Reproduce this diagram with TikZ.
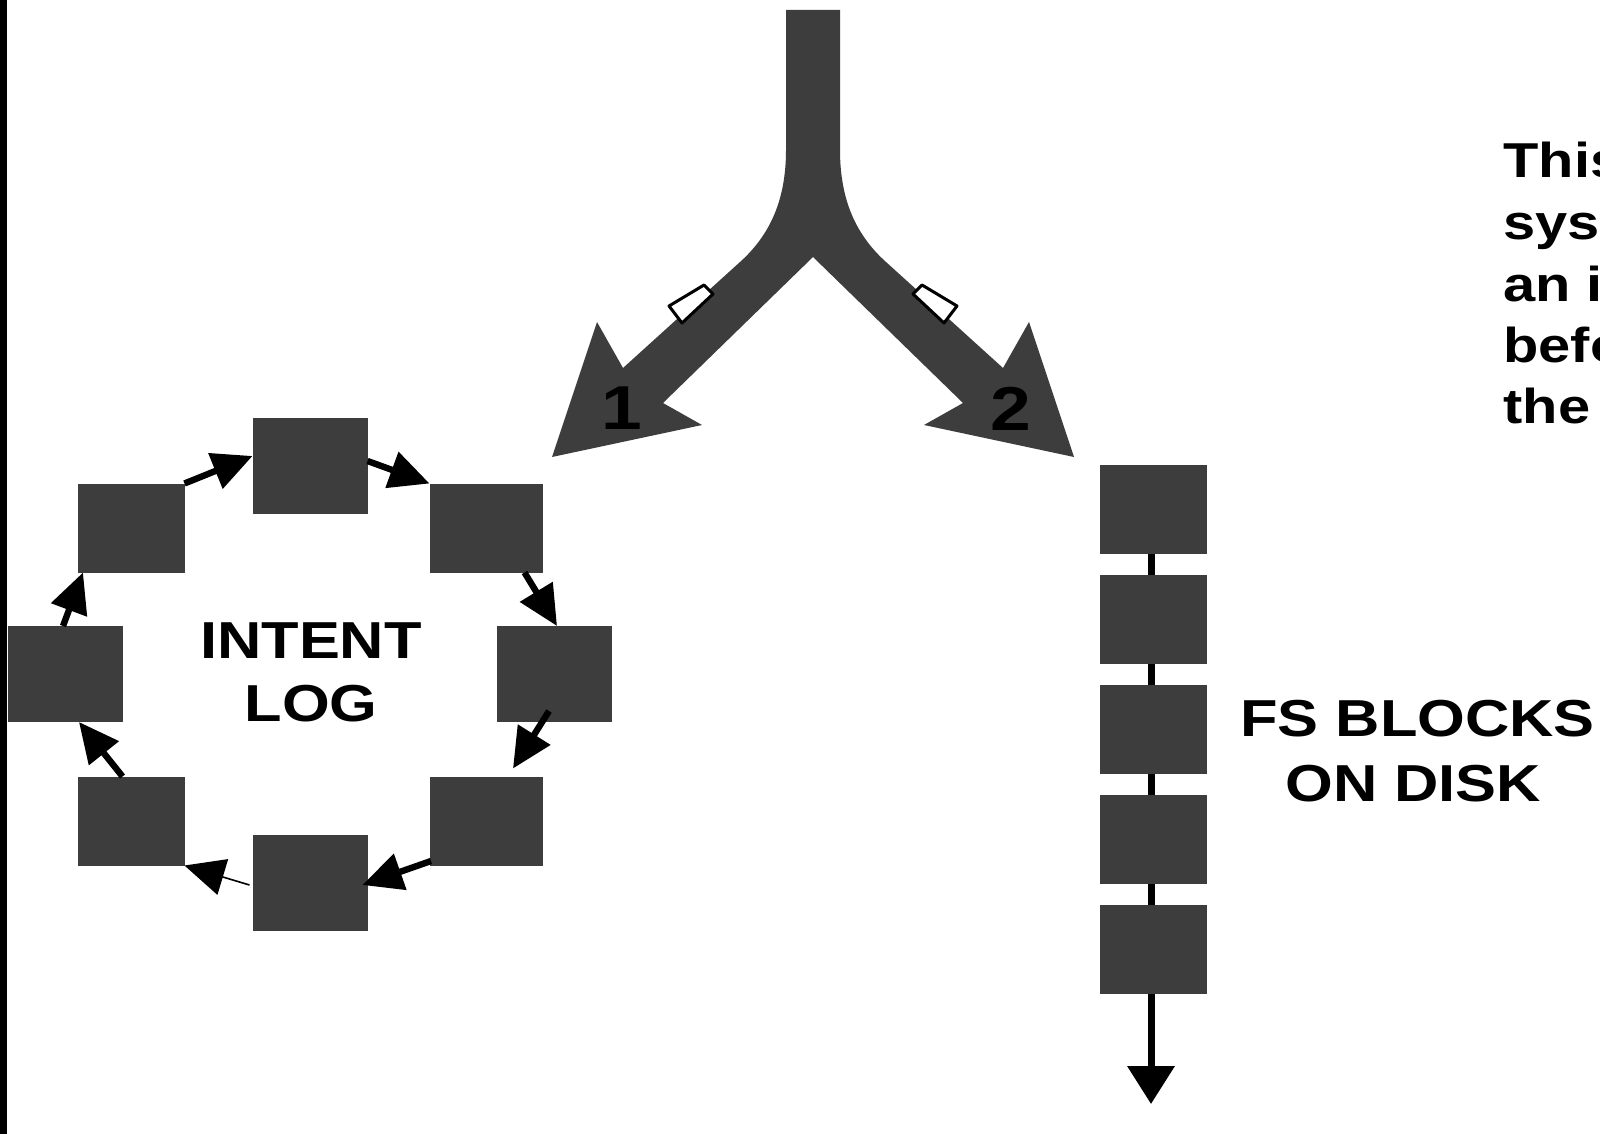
\documentclass[tikz,border=0pt]{standalone}
\usepackage{fontspec}
\setmainfont{Liberation Sans}
\newfontfamily\lblfont[FakeStretch=1.18]{Liberation Sans}
\usetikzlibrary{arrows.meta,calc,backgrounds}
\definecolor{blockgray}{RGB}{61,61,61}
\begin{document}
\begin{tikzpicture}[x=0.5pt,y=-0.5pt,
  blk/.style={fill=blockgray, draw=none, inner sep=0, outer sep=0, minimum width=57.5pt, minimum height=48pt},
  blkd/.style={blk, minimum width=53.5pt, minimum height=44.5pt},
  blkdr/.style={blk, minimum width=56.5pt, minimum height=44.5pt},
  colbox/.style={blk, minimum width=53.5pt, minimum height=44.5pt},
  ringarrow/.style={line width=3.2pt, -{Triangle[length=20pt,width=18.5pt]}},
  thinarrow/.style={line width=0.8pt, -{Triangle[length=20pt,width=18.5pt]}},
  colarrow/.style={line width=3.5pt, -{Triangle[length=19pt,width=23pt]}},
  lbl/.style={font=\lblfont\bfseries\fontsize{26pt}{31pt}\selectfont, inner sep=0, text=black},
  sidetext/.style={font=\lblfont\bfseries\fontsize{24.5pt}{31pt}\selectfont, inner sep=0, text=black},
  numlbl/.style={font=\lblfont\bfseries\fontsize{31pt}{36pt}\selectfont, inner sep=0, text=black},
  marker/.style={fill=white, draw=black, line width=1.5pt, line join=round}
]
\useasboundingbox (0,0) rectangle (1600,1134);
\clip (0,0) rectangle (1600,1134);

% fork
\fill[blockgray] (786,10) -- (786,150) .. controls (786,200) and (770,235) .. (740,262)
  -- (623,368) -- (597,322) -- (552,457) -- (702,425) -- (663,403) -- (813,257)
  -- (963,403) -- (924,425) -- (1074,457) -- (1029,322) -- (1003,368) -- (886,262)
  .. controls (856,235) and (840,200) .. (840,150) -- (840,10) -- cycle;
\draw[marker] (669,306) -- (704,285) -- (713,294) -- (682,323) -- cycle;
\draw[marker] (957,306) -- (922,285) -- (913,294) -- (944,323) -- cycle;
\node[numlbl] (n1) at (622,408) {1};
\node[numlbl] (n2) at (1011,409) {2};

% ring of intent log blocks
\node[blk]   (top) at (310,466) {};
\node[blkdr] (ur)  at (486,528) {};
\node[blk]   (rgt) at (554,674) {};
\node[blkdr] (lr)  at (486,821) {};
\node[blk]   (bot) at (310,883) {};
\node[blkd]  (ll)  at (131,821) {};
\node[blk]   (lft) at (65,674) {};
\node[blkd]  (ul)  at (131,528) {};

\draw[ringarrow] (ul.north east) -- ($(top.west)+(0,-10)$);
\draw[ringarrow] ($(top.east)+(0,-5)$) -- (ur.north west);
\draw[ringarrow] ($(ur.south east)+(-18,0)$) -- ($(rgt.north)+(3,0)$);
\draw[ringarrow] ($(rgt.south)+(-5,-11)$) -- ($(lr.north)+(27,-8)$);
\draw[ringarrow] ($(lr.south west)+(1.5,-4.5)$) -- ($(bot.east)+(-5,2)$);
\draw[thinarrow] ($(bot.west)+(-3,2)$) -- (ll.south east);
\draw[ringarrow] ($(ll.north)+(-8.5,0)$) -- ($(lft.south)+(14,0)$);
\draw[ringarrow] ($(lft.north)+(-2,0)$) -- ($(ul.south west)+(5.5,0)$);

\node[lbl, anchor=base] (il1) at (311,658) {INTENT};
\node[lbl, anchor=base] (il2) at (311,721) {LOG};

% FS blocks column
\node[colbox] (c1) at (1153.5,509.5) {};
\node[colbox] (c2) at (1153.5,619.5) {};
\node[colbox] (c3) at (1153.5,729.5) {};
\node[colbox] (c4) at (1153.5,839.5) {};
\node[colbox] (c5) at (1153.5,949.5) {};
\coordinate (cend) at (1151,1104);
\begin{scope}[on background layer]
  \fill[white] (0,0) rectangle (1600,1134);
  \fill[black] (0,0) rectangle (7,1134);
  \draw[colarrow] ($(c1.center)+(-2.5,0)$) -- (cend);
\end{scope}

\node[lbl, anchor=base west] (fs1) at (1240,736) {FS BLOCKS};
\node[lbl, anchor=base west] (fs2) at (1285,801) {ON DISK};

% explanatory text, cut off at the right edge as in the reference
\node[sidetext, anchor=base west] (t1) at (1503,178) {This};
\node[sidetext, anchor=base west] (t2) at (1503,240) {sys};
\node[sidetext, anchor=base west] (t3) at (1503,301) {an i};
\node[sidetext, anchor=base west] (t4) at (1503,362) {befo};
\node[sidetext, anchor=base west] (t5) at (1503,423) {the};
\end{tikzpicture}
\end{document}
